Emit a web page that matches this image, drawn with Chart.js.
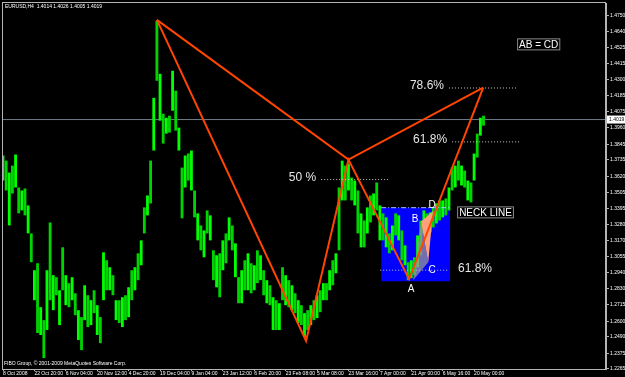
<!DOCTYPE html>
<html>
<head>
<meta charset="utf-8">
<script src="https://cdn.jsdelivr.net/npm/chart.js@4.4.1/dist/chart.umd.min.js"></script>
<style>
  html, body { margin: 0; padding: 0; background: #000; }
  #wrap { width: 625px; height: 377px; }
</style>
</head>
<body>
<div id="wrap"><canvas id="chart" width="625" height="377"></canvas></div>
<script>
// EURUSD H4 price range, one entry per group of bars
const highs = [
  1.3766, 1.3730, 1.3646, 1.3695, 1.3773, 1.3541, 1.3520, 1.3534, 1.3415, 1.3218,
  1.2959, 1.3008, 1.2699, 1.2608, 1.2959, 1.3295, 1.2924, 1.2910, 1.2818, 1.3120,
  1.2924, 1.2868, 1.2910, 1.2797, 1.2678, 1.2629, 1.2853, 1.2783, 1.2748, 1.2818,
  1.2713, 1.2629, 1.3085, 1.3029, 1.2980, 1.2924, 1.2748, 1.2748, 1.2769, 1.2783,
  1.2839, 1.2959, 1.2980, 1.3078, 1.3169, 1.3401, 1.3485, 1.3730, 1.4172, 1.4713,
  1.4341, 1.4060, 1.4032, 1.4046, 1.4362, 1.4222, 1.3962, 1.3681, 1.3766, 1.3780,
  1.3801, 1.3520, 1.3359, 1.3274, 1.3239, 1.3380, 1.3345, 1.3099, 1.3064, 1.3078,
  1.3169, 1.3218, 1.3331, 1.3274, 1.3148, 1.2910, 1.2959, 1.3029, 1.3078, 1.3008,
  1.2994, 1.3099, 1.3064, 1.2959, 1.2889, 1.2853, 1.2769, 1.2748, 1.2727, 1.2980,
  1.2924, 1.2889, 1.2853, 1.2797, 1.2748, 1.2713, 1.2657, 1.2678, 1.2713, 1.2748,
  1.2783, 1.2818, 1.2868, 1.2868, 1.2959, 1.3029, 1.3078, 1.3541, 1.3730, 1.3695,
  1.3709, 1.3611, 1.3590, 1.3520, 1.3359, 1.3309, 1.3401, 1.3485, 1.3499, 1.3576,
  1.3415, 1.3359, 1.3331, 1.3218, 1.3274, 1.3359, 1.3345, 1.3239, 1.3134, 1.3015,
  1.3029, 1.3050, 1.3204, 1.3309, 1.3380, 1.3359, 1.3366, 1.3401, 1.3429, 1.3450,
  1.3450, 1.3464, 1.3541, 1.3681, 1.3695, 1.3730, 1.3695, 1.3660, 1.3590, 1.3576,
  1.3780, 1.3920, 1.4032, 1.4046
];
const lows = [
  1.3590, 1.3520, 1.3274, 1.3499, 1.3541, 1.3359, 1.3380, 1.3345, 1.3218, 1.3015,
  1.2748, 1.2517, 1.2503, 1.2341, 1.2538, 1.2748, 1.2678, 1.2783, 1.2573, 1.2818,
  1.2713, 1.2699, 1.2748, 1.2643, 1.2468, 1.2397, 1.2608, 1.2559, 1.2573, 1.2657,
  1.2503, 1.2446, 1.2748, 1.2818, 1.2818, 1.2783, 1.2608, 1.2587, 1.2559, 1.2608,
  1.2629, 1.2748, 1.2818, 1.2889, 1.2994, 1.3218, 1.3345, 1.3429, 1.3801, 1.4292,
  1.4011, 1.3850, 1.3920, 1.3927, 1.4081, 1.3941, 1.3801, 1.3324, 1.3541, 1.3590,
  1.3520, 1.3331, 1.3169, 1.3099, 1.3050, 1.3218, 1.3169, 1.2889, 1.2839, 1.2769,
  1.2959, 1.3008, 1.3169, 1.3099, 1.2910, 1.2727, 1.2727, 1.2818, 1.2818, 1.2797,
  1.2818, 1.2868, 1.2889, 1.2783, 1.2727, 1.2713, 1.2538, 1.2538, 1.2538, 1.2748,
  1.2713, 1.2699, 1.2678, 1.2657, 1.2587, 1.2573, 1.2489, 1.2538, 1.2573, 1.2608,
  1.2622, 1.2664, 1.2748, 1.2748, 1.2818, 1.2853, 1.2938, 1.3099, 1.3450, 1.3450,
  1.3520, 1.3450, 1.3415, 1.3218, 1.3120, 1.3120, 1.3218, 1.3295, 1.3345, 1.3380,
  1.3169, 1.3169, 1.3120, 1.3078, 1.3099, 1.3204, 1.3169, 1.3029, 1.2994, 1.2889,
  1.2903, 1.2924, 1.2980, 1.3064, 1.3218, 1.3218, 1.3225, 1.3260, 1.3288, 1.3309,
  1.3331, 1.3345, 1.3380, 1.3520, 1.3541, 1.3590, 1.3555, 1.3541, 1.3450, 1.3436,
  1.3590, 1.3752, 1.3906, 1.3976
];

const timeLabels = [
  '8 Oct 2008', '22 Oct 20:00', '6 Nov 04:00', '20 Nov 12:00', '4 Dec 20:00',
  '19 Dec 04:00', '9 Jan 04:00', '23 Jan 12:00', '6 Feb 20:00', '23 Feb 08:00',
  '5 Mar 08:00', '23 Mar 16:00', '7 Apr 00:00', '21 Apr 00:00', '6 May 16:00', '20 May 00:00'
];
const barsPerLabel = 10;

const priceTicks = [
  1.4750, 1.4640, 1.4525, 1.4415, 1.4300, 1.4185, 1.4075, 1.3960, 1.3845, 1.3735,
  1.3620, 1.3505, 1.3395, 1.3280, 1.3170, 1.3055, 1.2940, 1.2830, 1.2715, 1.2600,
  1.2490, 1.2375, 1.2265
];
const lastPrice = 1.4019;
const headerText = 'EURUSD,H4  1.4014 1.4026 1.4005 1.4019';
const footerText = 'FIBO Group, \u00a9 2001-2009 MetaQuotes Software Corp.';

// X, A, B, C, D of the drawn pattern
const patternBars = [49, 96.5, 110, 129.3, 152.9];
const patternPrices = [1.4720, 1.2461, 1.3737, 1.2896, 1.4243];

// fibo levels
const fibNames = ['50 %', '78.6%', '61.8%', '61.8%'];
const fibPrices = [1.3597, 1.4241, 1.3862, 1.2959];
const fibFrom = [101.3, 142.0, 143.0, 120.1];
const fibTo = [123.2, 163.7, 164.6, 142.0];
const fibSide = ['left', 'left', 'left', 'right'];

// blue box with the neck line on top
const boxBars = [120.4, 142.4];
const boxPrices = [1.2882, 1.3399];

// the two small triangles in the box
const pinkBars = [133.1, 136.9, 135.4];
const pinkPrices = [1.3302, 1.3373, 1.3015];
const grayBars = [130.6, 133.1, 135.4];
const grayPrices = [1.2889, 1.3302, 1.3015];

const letters = ['A', 'B', 'C', 'D'];
const letterBars = [129.9, 131.2, 136.6, 136.6];
const letterPrices = [1.2825, 1.3317, 1.2959, 1.3415];

const notes = ['NECK LINE', 'AB = CD'];
const noteBars = [144.6, 163.7];
const notePrices = [1.3366, 1.4548];

const xMin = -0.32, xMax = 192;
const yMin = 1.2264, yMax = 1.4839;

const pts = (bars, prices) => bars.map((b, i) => ({ x: b, y: prices[i] }));
const closed = (bars, prices) => { const p = pts(bars, prices); p.push(p[0]); return p; };

const lineBase = { type: 'line', pointRadius: 0, tension: 0, fill: false };

const datasets = [
  {
    ...lineBase,
    data: pts(boxBars, [boxPrices[1], boxPrices[1]]),
    fill: { value: boxPrices[0] },
    backgroundColor: '#0000ff',
    borderWidth: 0,
    order: 10
  },
  {
    ...lineBase,
    data: [{ x: xMin, y: lastPrice }, { x: xMax, y: lastPrice }],
    borderColor: '#6f7c8a',
    borderWidth: 1,
    order: 8
  },
  {
    type: 'bar',
    data: highs.map((h, i) => ({ x: i, y: [lows[i], h] })),
    backgroundColor: highs.map((h, i) => (i % 2 ? '#00d400' : '#00ff00')),
    barPercentage: 0.9,
    categoryPercentage: 1,
    order: 5
  },
  {
    ...lineBase,
    data: closed(grayBars, grayPrices),
    fill: 'shape',
    backgroundColor: 'rgba(150,150,150,0.75)',
    borderWidth: 0,
    order: 4
  },
  {
    ...lineBase,
    data: closed(pinkBars, pinkPrices),
    fill: 'shape',
    backgroundColor: '#ffa07a',
    borderWidth: 0,
    order: 3
  },
  {
    ...lineBase,
    data: pts(boxBars, [boxPrices[1], boxPrices[1]]),
    borderColor: '#a9c4ff',
    borderWidth: 1,
    borderDash: [5, 2, 1, 2],
    order: 2
  },
  ...fibPrices.map((p, i) => ({
    ...lineBase,
    data: [{ x: fibFrom[i], y: p }, { x: fibTo[i], y: p }],
    borderColor: '#c8c8c8',
    borderWidth: 1,
    borderDash: [1, 2],
    order: 2
  })),
  {
    ...lineBase,
    data: pts(patternBars, patternPrices),
    borderColor: '#ff4500',
    borderWidth: 2,
    order: 1
  },
  {
    ...lineBase,
    data: pts([patternBars[0], patternBars[2], patternBars[4]],
              [patternPrices[0], patternPrices[2], patternPrices[4]]),
    borderColor: '#ff4500',
    borderWidth: 2,
    order: 1
  }
];

const smallFont = '5px "Liberation Sans"';

const overlay = {
  id: 'overlay',
  afterDatasetsDraw(chart) {
    const { ctx, chartArea: a, scales: { x, y } } = chart;
    ctx.save();

    // window frame
    ctx.strokeStyle = '#b4b4b4';
    ctx.lineWidth = 1;
    ctx.strokeRect(a.left + 0.5, a.top - 0.5, a.right - a.left - 1, a.bottom - a.top + 1);

    // fibo labels
    ctx.font = '12px "Liberation Sans"';
    ctx.fillStyle = '#e6e6e6';
    ctx.textBaseline = 'middle';
    fibNames.forEach((t, i) => {
      const py = y.getPixelForValue(fibPrices[i]) - 2;
      if (fibSide[i] === 'left') {
        ctx.textAlign = 'right';
        ctx.fillText(t, x.getPixelForValue(fibFrom[i]) - 5, py);
      } else {
        ctx.textAlign = 'left';
        ctx.fillText(t, x.getPixelForValue(fibTo[i]) + 9, py);
      }
    });

    // pattern letters
    ctx.font = '10px "Liberation Sans"';
    ctx.fillStyle = '#ffffff';
    ctx.textAlign = 'center';
    letters.forEach((t, i) => {
      ctx.fillText(t, x.getPixelForValue(letterBars[i]), y.getPixelForValue(letterPrices[i]));
    });

    // boxed notes
    ctx.textAlign = 'left';
    notes.forEach((t, i) => {
      const px = x.getPixelForValue(noteBars[i]);
      const py = y.getPixelForValue(notePrices[i]);
      const w = ctx.measureText(t).width + 3;
      ctx.fillStyle = '#000000';
      ctx.fillRect(px, py - 6, w, 12);
      ctx.strokeStyle = '#8a8a8a';
      ctx.strokeRect(px + 0.5, py - 5.5, w, 11);
      ctx.fillStyle = '#ffffff';
      ctx.fillText(t, px + 2, py + 0.5);
    });

    // last price tag on the axis
    const ly = y.getPixelForValue(lastPrice);
    ctx.fillStyle = '#ffffff';
    ctx.fillRect(a.right + 1, ly - 4, 18, 8);
    ctx.fillStyle = '#000000';
    ctx.font = smallFont;
    ctx.textAlign = 'left';
    ctx.fillText(lastPrice.toFixed(4), a.right + 3, ly + 0.5);

    // header and footer text
    ctx.fillStyle = '#ffffff';
    ctx.fillText(headerText, a.left + 3, a.top + 4);
    ctx.fillText(footerText, a.left + 2, a.bottom - 5);

    ctx.restore();
  }
};

new Chart(document.getElementById('chart'), {
  type: 'bar',
  data: { datasets },
  options: {
    responsive: false,
    animation: false,
    layout: { padding: { left: 2, top: 2, right: 0, bottom: 0 } },
    plugins: { legend: { display: false }, tooltip: { enabled: false } },
    scales: {
      x: {
        type: 'linear',
        min: xMin,
        max: xMax,
        offset: false,
        afterBuildTicks: (scale) => {
          scale.ticks = timeLabels.map((t, k) => ({ value: k * barsPerLabel }));
        },
        afterFit: (scale) => { scale.height = 8; },
        ticks: {
          autoSkip: false,
          maxRotation: 0,
          minRotation: 0,
          align: 'start',
          padding: 1,
          color: '#ffffff',
          font: { family: 'Liberation Sans', size: 5, lineHeight: 0.8 },
          callback: (v, i) => timeLabels[i]
        },
        grid: { offset: false, drawOnChartArea: false, drawTicks: true, tickLength: 2, color: '#b4b4b4' },
        border: { display: true, color: '#b4b4b4' }
      },
      y: {
        type: 'linear',
        position: 'right',
        min: yMin,
        max: yMax,
        afterBuildTicks: (scale) => {
          scale.ticks = priceTicks.map(v => ({ value: v }));
        },
        afterFit: (scale) => { scale.width = 19; },
        ticks: {
          padding: 1,
          color: '#ffffff',
          font: { family: 'Liberation Sans', size: 5, lineHeight: 0.8 },
          callback: (v) => v.toFixed(4)
        },
        grid: { drawOnChartArea: false, drawTicks: true, tickLength: 3, color: '#b4b4b4' },
        border: { display: true, color: '#b4b4b4' }
      }
    }
  },
  plugins: [overlay]
});
</script>
</body>
</html>
